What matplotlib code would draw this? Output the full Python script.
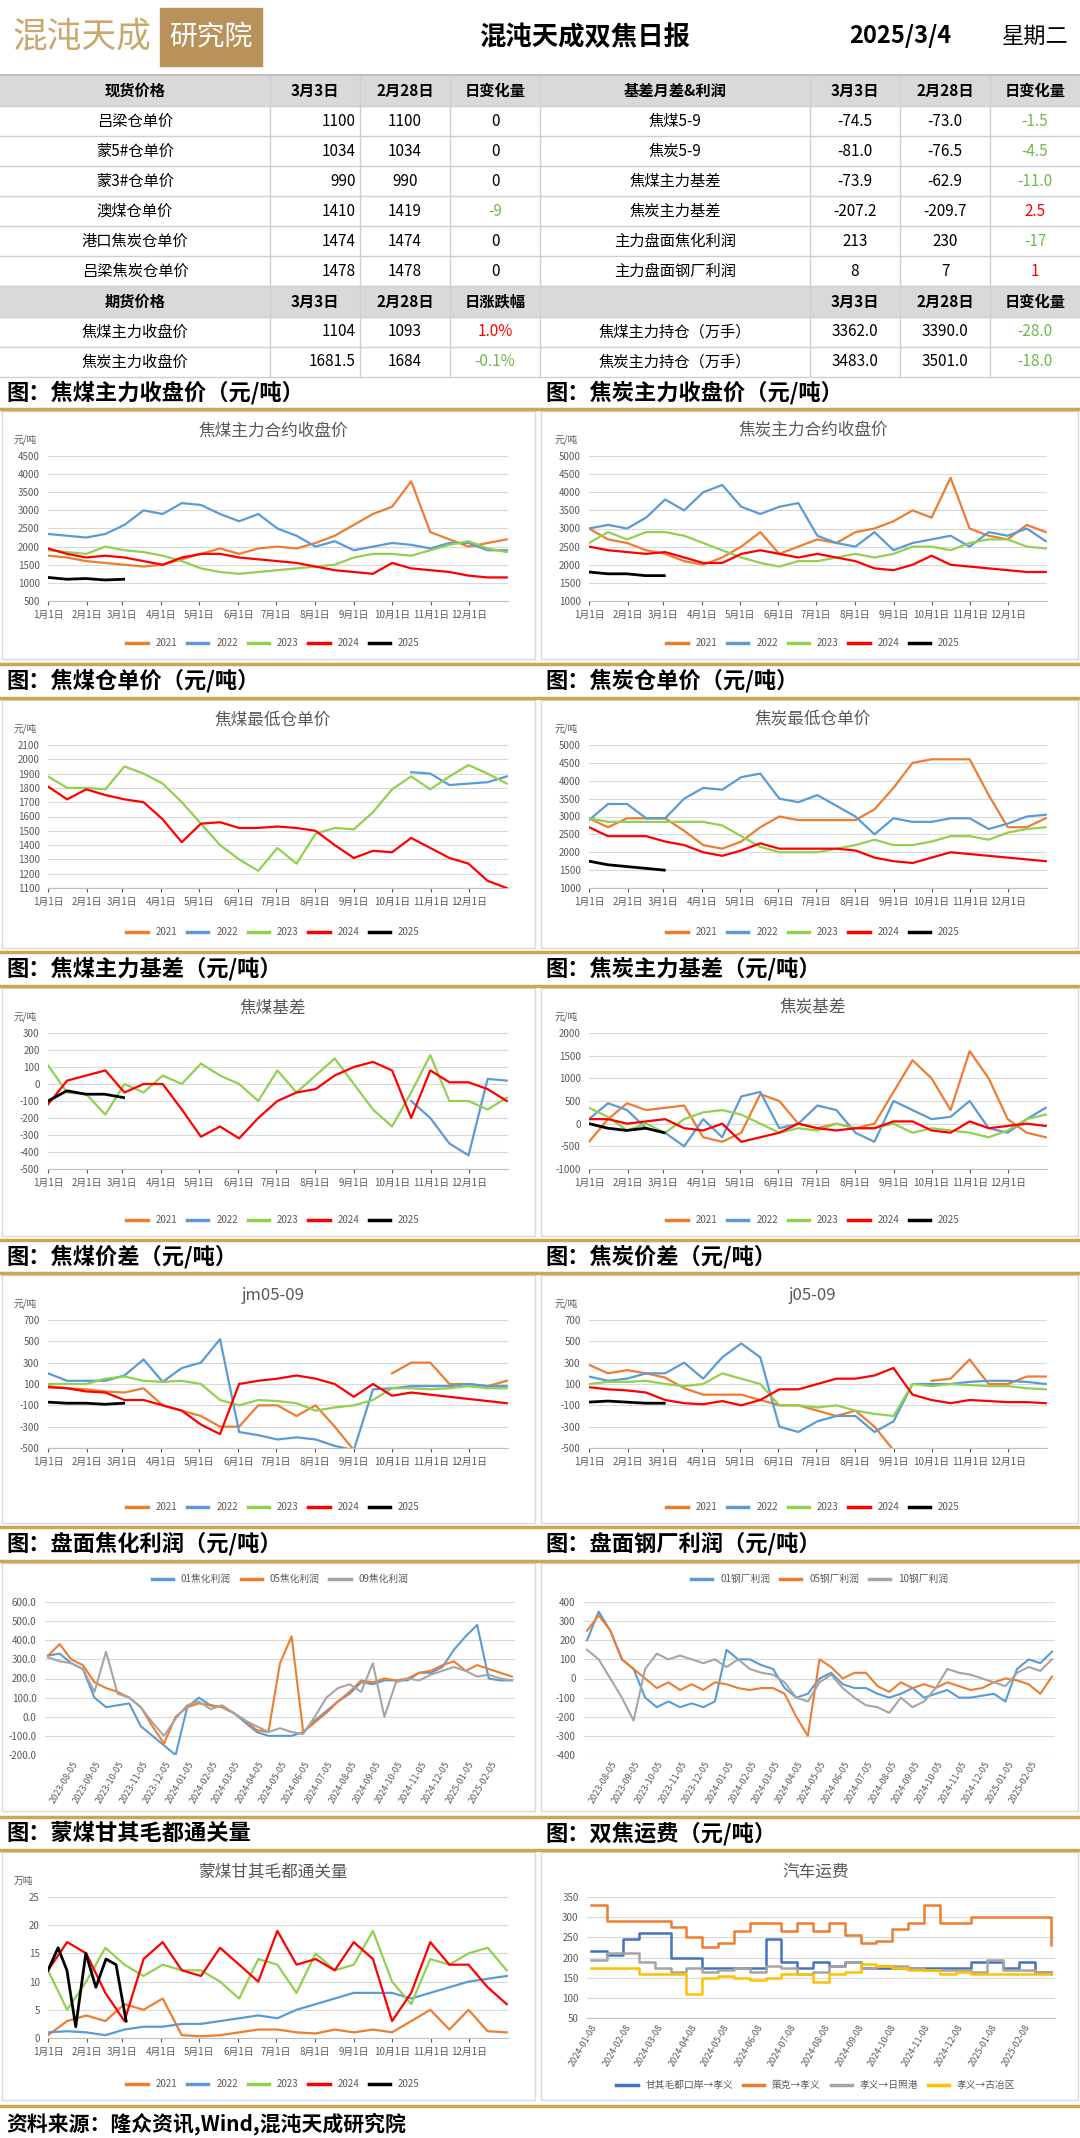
import numpy as np
import pandas as pd
import matplotlib
matplotlib.use("Agg")
import matplotlib.pyplot as plt
from matplotlib.lines import Line2D
from matplotlib.patches import Rectangle

plt.rcParams["font.family"] = ["Noto Sans CJK SC", "DejaVu Sans"]
plt.rcParams["axes.unicode_minus"] = False

W, H = 1080, 2138
nan = np.nan

# ---------------- table data ----------------
spot_names = ["吕梁仓单价", "蒙5#仓单价", "蒙3#仓单价", "澳煤仓单价", "港口焦炭仓单价", "吕梁焦炭仓单价"]
spot_d1 = ["1100", "1034", "990", "1410", "1474", "1478"]
spot_d0 = ["1100", "1034", "990", "1419", "1474", "1478"]
spot_chg = ["0", "0", "0", "-9", "0", "0"]
basis_names = ["焦煤5-9", "焦炭5-9", "焦煤主力基差", "焦炭主力基差", "主力盘面焦化利润", "主力盘面钢厂利润"]
basis_d1 = ["-74.5", "-81.0", "-73.9", "-207.2", "213", "8"]
basis_d0 = ["-73.0", "-76.5", "-62.9", "-209.7", "230", "7"]
basis_chg = ["-1.5", "-4.5", "-11.0", "2.5", "-17", "1"]
fut_names = ["焦煤主力收盘价", "焦炭主力收盘价"]
fut_d1 = ["1104", "1681.5"]
fut_d0 = ["1093", "1684"]
fut_chg = ["1.0%", "-0.1%"]
oi_names = ["焦煤主力持仓（万手）", "焦炭主力持仓（万手）"]
oi_d1 = ["3362.0", "3483.0"]
oi_d0 = ["3390.0", "3501.0"]
oi_chg = ["-28.0", "-18.0"]

# ---------------- seasonal chart data (semi-monthly samples) ----------------
years = ["2021", "2022", "2023", "2024", "2025"]
jm_close = {
    "2021": [1750,1700,1600,1550,1500,1450,1500,1650,1800,1950,1800,1950,2000,1950,2100,2300,2600,2900,3100,3800,2400,2200,2000,2100,2200],
    "2022": [2350,2300,2250,2350,2600,3000,2900,3200,3150,2900,2700,2900,2500,2300,2000,2150,1900,2000,2100,2050,1950,2100,2100,1900,1900],
    "2023": [1900,1850,1800,2000,1900,1850,1750,1600,1400,1300,1250,1300,1350,1400,1450,1500,1700,1800,1800,1750,1900,2050,2150,1950,1850],
    "2024": [1950,1800,1700,1750,1700,1600,1500,1700,1800,1800,1700,1650,1600,1550,1450,1350,1300,1250,1550,1400,1350,1300,1200,1150,1150],
    "2025": [1150,1100,1120,1080,1100],
}
j_close = {
    "2021": [3000,2700,2600,2400,2300,2100,2000,2200,2500,2900,2300,2500,2700,2600,2900,3000,3200,3500,3300,4400,3000,2800,2700,3100,2900],
    "2022": [3000,3100,3000,3300,3800,3500,4000,4200,3600,3400,3600,3700,2800,2600,2500,2900,2400,2600,2700,2800,2500,2900,2800,3000,2650],
    "2023": [2600,2900,2700,2900,2900,2800,2600,2400,2200,2050,1950,2100,2100,2200,2300,2200,2300,2500,2500,2400,2600,2700,2700,2500,2450],
    "2024": [2500,2400,2350,2300,2350,2200,2050,2050,2300,2400,2300,2200,2300,2200,2100,1900,1850,2000,2250,2000,1950,1900,1850,1800,1800],
    "2025": [1800,1750,1750,1700,1700],
}
jm_wr = {
    "2021": [],
    "2022": [nan]*19 + [1910,1900,1820,1830,1840,1880],
    "2023": [1880,1800,1800,1790,1950,1900,1830,1700,1550,1400,1300,1220,1380,1270,1480,1520,1510,1630,1790,1880,1790,1880,1960,1900,1830],
    "2024": [1810,1720,1790,1750,1720,1700,1580,1420,1550,1560,1520,1520,1530,1520,1500,1400,1310,1360,1350,1450,1380,1310,1270,1150,1100],
    "2025": [],
}
j_wr = {
    "2021": [2950,2700,2950,2950,2950,2600,2200,2100,2300,2700,3000,2900,2900,2900,2900,3200,3800,4500,4600,4600,4600,3600,2700,2700,2950],
    "2022": [2900,3350,3350,2950,2950,3500,3800,3750,4100,4200,3500,3400,3600,3300,3000,2500,2950,2850,2850,2950,2950,2650,2800,3000,3050],
    "2023": [2950,2850,2850,2850,2850,2850,2850,2750,2450,2150,2000,2000,2000,2100,2200,2350,2200,2200,2300,2450,2450,2350,2550,2650,2700],
    "2024": [2700,2450,2450,2450,2300,2200,2000,1900,2050,2250,2100,2100,2100,2100,2050,1850,1750,1700,1850,2000,1950,1900,1850,1800,1750],
    "2025": [1750,1650,1600,1550,1500],
}
jm_basis = {
    "2021": [],
    "2022": [nan]*19 + [-100,-200,-350,-420,30,20],
    "2023": [110,-50,-60,-180,0,-50,50,0,120,50,0,-100,80,-50,50,150,0,-150,-250,-50,170,-100,-100,-150,-80],
    "2024": [-120,20,50,80,-50,0,0,-150,-310,-250,-320,-200,-100,-50,-30,50,100,130,80,-200,80,10,10,-30,-100],
    "2025": [-100,-40,-60,-60,-80],
}
j_basis = {
    "2021": [-400,100,450,300,350,400,-300,-400,-200,650,500,0,-100,0,-100,0,700,1400,1000,300,1600,1000,100,-200,-300],
    "2022": [100,450,300,-100,-200,-500,100,-300,600,700,-100,0,400,300,-200,-400,500,300,100,150,500,-100,-200,100,350],
    "2023": [350,150,-150,0,-200,100,250,300,200,0,-200,-100,-150,0,-100,-100,0,-200,-100,-150,-200,-300,-150,100,200],
    "2024": [100,100,0,50,100,-100,-150,0,-400,-300,-200,0,-100,-150,-100,-100,50,50,-150,-200,50,-100,-50,0,-50],
    "2025": [0,-100,-150,-100,-200],
}
jm_spread = {
    "2021": [80,60,50,30,20,60,-100,-150,-200,-300,-300,-100,-100,-200,-100,-300,-520,nan,200,300,300,100,100,80,130],
    "2022": [200,130,130,130,180,330,120,250,300,520,-350,-380,-420,-400,-420,-480,-520,50,60,80,80,80,100,80,80],
    "2023": [100,100,100,150,170,130,120,130,100,-50,-100,-50,-60,-80,-150,-120,-100,-50,60,60,50,60,80,60,60],
    "2024": [70,60,30,20,-50,-50,-100,-150,-280,-370,100,130,150,180,150,100,-20,100,-10,20,0,-20,-40,-60,-80],
    "2025": [-70,-80,-80,-90,-80],
}
j_spread = {
    "2021": [280,200,230,200,160,60,0,0,0,-50,-100,-100,-150,-200,-150,-300,-520,nan,130,150,330,100,100,170,170],
    "2022": [170,130,150,200,200,300,150,350,480,350,-300,-350,-250,-200,-200,-350,-250,100,100,100,120,130,130,120,100],
    "2023": [100,120,120,130,100,80,100,200,150,100,-100,-100,-120,-100,-150,-180,-200,100,80,100,90,80,80,60,50],
    "2024": [70,50,40,20,-50,-80,-90,-60,-100,-50,50,50,100,150,150,180,250,0,-50,-80,-50,-60,-70,-70,-80],
    "2025": [-70,-60,-70,-80,-80],
}
mongol = {
    "2021": [0.5,3,4,3,6,5,7,0.5,0.3,0.5,1,1.5,1.5,1,0.8,1.5,1,1.5,1,3,5,1.5,5,1.2,1],
    "2022": [1,1.2,1,0.5,1.5,2,2,2.5,2.5,3,3.5,4,3.5,5,6,7,8,8,8,7,8,9,10,10.5,11],
    "2023": [12,5,10,16,13,11,13,12,12,10,7,14,13,8,15,12,13,19,10,6,14,13,15,16,12],
    "2024": [12,17,15,8,3,14,17,12,11,16,13,10,19,13,14,12,17,14,3,8,17,13,13,9,6],
    "2025": [12,16,12,2,15,9,14,13,3],
}
mongol_2025_days = [0, 8, 15, 22, 30, 38, 46, 54, 62]

# coking / steel profit (semi-monthly from 2023-07-05)
coke_p01 = [320,330,280,250,100,50,60,70,-50,-100,-150,-200,50,100,60,50,20,-30,-80,-100,-100,-100,-80,-20,30,80,120,180,170,190,190,190,230,230,260,350,420,480,200,190,190]
coke_p05 = [320,380,300,270,180,150,130,100,50,-50,-140,0,50,70,60,50,20,-20,-70,-80,280,420,-80,-30,20,80,130,190,180,200,190,200,230,240,270,290,240,270,250,230,210]
coke_p09 = [310,290,280,250,130,340,120,100,50,-30,-100,-10,60,80,40,60,20,-20,-50,-80,-60,-80,-90,0,100,150,170,130,280,0,180,200,190,220,240,260,240,210,220,200,190]
steel_p01 = [200,350,250,100,50,-100,-150,-120,-150,-130,-150,-120,150,100,100,70,50,-50,-100,-80,0,30,-30,-50,-50,-80,-100,-80,-50,-100,-80,-60,-100,-100,-90,-80,-120,50,100,80,140]
steel_p05 = [250,330,250,100,50,0,-50,-20,-60,-30,-60,-20,-30,-50,-60,-50,-50,-80,-200,-300,100,60,0,30,30,-40,-70,-20,-50,-30,-50,-20,-40,-60,-50,-20,0,-10,-30,-80,10]
steel_p10 = [150,100,0,-100,-220,50,130,100,120,100,80,100,60,100,50,30,20,-20,-100,-120,-20,20,-50,-100,-140,-150,-180,-100,-150,-120,-50,50,30,20,0,-20,-40,30,60,40,100]

# freight (semi-monthly from 2024-01-08)
fr_gqmd = [215,205,245,260,260,200,200,175,175,175,175,245,190,175,190,180,190,175,175,175,175,175,175,175,190,190,175,190,165,165]
fr_ceke = [330,290,290,290,290,275,250,225,235,265,285,285,265,285,265,285,255,235,240,270,285,330,285,285,300,300,300,300,300,230]
fr_rzg = [195,210,210,190,175,165,175,165,170,175,165,180,175,160,165,180,190,175,180,180,175,170,170,170,165,195,170,170,165,160]
fr_gyq = [175,175,175,160,160,160,110,150,155,150,145,150,160,160,140,160,165,185,180,175,170,170,160,165,160,160,160,160,160,160]

month_labels = [f"{m}月1日" for m in range(1, 13)]
month_days = [0, 31, 59, 90, 120, 151, 181, 212, 243, 273, 304, 334]

COL = {"2021": "#ED7D31", "2022": "#5B9BD5", "2023": "#92D050", "2024": "#FF0000", "2025": "#000000"}
GOLD = "#C8A951"
TXT = "#595959"

fig = plt.figure(figsize=(W / 100, H / 100), dpi=100)
bg = fig.add_axes([0, 0, 1, 1])
bg.set_xlim(0, W)
bg.set_ylim(H, 0)
bg.axis("off")


def pax(x0, y0, x1, y1):
    return fig.add_axes([x0 / W, 1 - y1 / H, (x1 - x0) / W, (y1 - y0) / H])


# ---------------- header ----------------
bg.text(82, 38, "混沌天成", fontsize=25, color="#C9A86A", va="center", ha="center", fontweight="light")
bg.add_patch(Rectangle((160, 8), 102, 58, color="#B8925A"))
bg.text(211, 37, "研究院", fontsize=20, color="white", va="center", ha="center")
bg.text(585, 38, "混沌天成双焦日报", fontsize=19, fontweight="bold", va="center", ha="center")
bg.text(900, 36, "2025/3/4", fontsize=17, fontweight="bold", va="center", ha="center")
bg.text(1035, 36, "星期二", fontsize=16, va="center", ha="center")

# ---------------- table ----------------
edges = [0, 270, 360, 450, 540, 810, 900, 990, 1080]
centers = [(edges[i] + edges[i + 1]) / 2 for i in range(8)]
hdr1 = ["现货价格", "3月3日", "2月28日", "日变化量", "基差月差&利润", "3月3日", "2月28日", "日变化量"]
hdr2 = ["期货价格", "3月3日", "2月28日", "日涨跌幅", "", "3月3日", "2月28日", "日变化量"]


def chg_color(s):
    if s.startswith("-"):
        return "#70B84A"
    if s in ("0", "0.0"):
        return "black"
    return "#FF0000"


def draw_row(y0, h, cells, header=False):
    if header:
        bg.add_patch(Rectangle((0, y0), W, h, color="#D9D9D9"))
    for i, c in enumerate(cells):
        txt, color = c if isinstance(c, tuple) else (c, "black")
        if i == 1 and not header:
            bg.text(edges[2] - 4, y0 + h / 2, txt, ha="right", va="center", fontsize=11, color=color)
        else:
            bg.text(centers[i], y0 + h / 2, txt, ha="center", va="center", fontsize=11, color=color,
                    fontweight="bold" if header else "normal")
    bg.plot([0, W], [y0 + h, y0 + h], color="#CFCFCF", lw=1)


draw_row(75, 31, hdr1, header=True)
for r in range(6):
    draw_row(106 + 30 * r, 30, [spot_names[r], spot_d1[r], spot_d0[r], (spot_chg[r], chg_color(spot_chg[r])),
                                basis_names[r], basis_d1[r], basis_d0[r], (basis_chg[r], chg_color(basis_chg[r]))])
draw_row(286, 31, hdr2, header=True)
for r in range(2):
    draw_row(317 + 30 * r, 30, [fut_names[r], fut_d1[r], fut_d0[r], (fut_chg[r], chg_color(fut_chg[r])),
                                oi_names[r], oi_d1[r], oi_d0[r], (oi_chg[r], chg_color(oi_chg[r]))])
for xe in edges[1:-1]:
    bg.plot([xe, xe], [75, 377], color="#CFCFCF", lw=1)
bg.plot([0, W], [75, 75], color="#BFBFBF", lw=1.5)

# ---------------- section titles ----------------
bands = [(377, 409), (664, 698), (952, 986), (1240, 1273), (1527, 1561), (1817, 1850)]
titles = [("图：焦煤主力收盘价（元/吨）", "图：焦炭主力收盘价（元/吨）"),
          ("图：焦煤仓单价（元/吨）", "图：焦炭仓单价（元/吨）"),
          ("图：焦煤主力基差（元/吨）", "图：焦炭主力基差（元/吨）"),
          ("图：焦煤价差（元/吨）", "图：焦炭价差（元/吨）"),
          ("图：盘面焦化利润（元/吨）", "图：盘面钢厂利润（元/吨）"),
          ("图：蒙煤甘其毛都通关量", "图：双焦运费（元/吨）")]
for (y0, y1), (tl, tr) in zip(bands, titles):
    bg.plot([0, W], [y1, y1], color=GOLD, lw=2.5)
    if y0 > 400:
        bg.plot([0, W], [y0, y0], color=GOLD, lw=2.5)
    bg.text(6, (y0 + y1) / 2, tl, fontsize=16, fontweight="bold", va="center", ha="left")
    bg.text(545, (y0 + y1) / 2, tr, fontsize=16, fontweight="bold", va="center", ha="left")
bg.plot([0, W], [2106, 2106], color=GOLD, lw=2.5)
bg.text(6, 2124, "资料来源：隆众资讯,Wind,混沌天成研究院", fontsize=15, fontweight="bold", va="center", ha="left")

panel_tops = [409, 698, 986, 1273, 1561, 1850]
for T in panel_tops:
    bg.add_patch(Rectangle((2, T + 2), 533, 248, fill=False, ec="#D9D9D9", lw=1))
    bg.add_patch(Rectangle((541, T + 2), 537, 248, fill=False, ec="#D9D9D9", lw=1))


def style(ax, ylim, yticks, fmt="{:g}"):
    ax.set_ylim(*ylim)
    ax.set_yticks(yticks)
    ax.set_yticklabels([fmt.format(v) for v in yticks], fontsize=7, color=TXT)
    ax.grid(axis="y", color="#D9D9D9", lw=0.8)
    ax.set_axisbelow(True)
    for s in ["top", "right", "left"]:
        ax.spines[s].set_visible(False)
    ax.spines["bottom"].set_color("#BFBFBF")
    ax.tick_params(axis="y", length=0, pad=6)
    ax.tick_params(axis="x", colors=TXT, labelsize=7, length=3)


def legend(handles, labels, cx, y, ncol=5, fs=7):
    fig.legend(handles, labels, loc="center", bbox_to_anchor=(cx / W, 1 - y / H), ncol=ncol,
               frameon=False, fontsize=fs, handlelength=2.2, columnspacing=1.0, labelcolor=TXT)


def seasonal(side, T, bottom, title, data, ylim, yticks, unit="元/吨", days2025=None):
    x0, x1 = (48, 508) if side == 0 else (589, 1047)
    ax = pax(x0, T + 47, x1, T + bottom)
    for y in years:
        vals = data[y]
        if len(vals) == 0:
            continue
        if y == "2025":
            d = days2025 if days2025 is not None else np.arange(len(vals)) * 15
        else:
            d = np.linspace(0, 364, len(vals))
        ax.plot(d, vals, color=COL[y], lw=1.6 if y != "2025" else 2.0)
    ax.set_xlim(0, 365)
    ax.set_xticks(month_days)
    ax.set_xticklabels(month_labels)
    style(ax, ylim, yticks)
    cx = (x0 + x1) / 2 - 5
    bg.text(cx, T + 22, title, fontsize=12, color=TXT, ha="center", va="center")
    if unit:
        bg.text(x0 - 34, T + 31, unit, fontsize=7, color=TXT, ha="left", va="center")
    hs = [Line2D([], [], color=COL[y], lw=2.5) for y in years]
    legend(hs, years, cx, T + 234)
    return ax


T = panel_tops[0]
seasonal(0, T, 192, "焦煤主力合约收盘价", jm_close, (500, 4500), list(range(500, 4501, 500)))
seasonal(1, T, 192, "焦炭主力合约收盘价", j_close, (1000, 5000), list(range(1000, 5001, 500)))
T = panel_tops[1]
seasonal(0, T, 190, "焦煤最低仓单价", jm_wr, (1100, 2100), list(range(1100, 2101, 100)))
seasonal(1, T, 190, "焦炭最低仓单价", j_wr, (1000, 5000), list(range(1000, 5001, 500)))
T = panel_tops[2]
seasonal(0, T, 183, "焦煤基差", jm_basis, (-500, 300), list(range(-500, 301, 100)))
seasonal(1, T, 183, "焦炭基差", j_basis, (-1000, 2000), list(range(-1000, 2001, 500)))
T = panel_tops[3]
seasonal(0, T, 175, "jm05-09", jm_spread, (-500, 700), list(range(-500, 701, 200)))
seasonal(1, T, 175, "j05-09", j_spread, (-500, 700), list(range(-500, 701, 200)))

# ---------------- profit charts ----------------
T = panel_tops[4]
pdates = pd.date_range("2023-07-05", "2025-03-04", periods=len(coke_p01))
tick_dates = pd.date_range("2023-07-05", "2025-02-05", freq="MS") + pd.Timedelta(days=4)
PC = ["#5B9BD5", "#ED7D31", "#A5A5A5"]
for side, series, labels, ylim, yt, fmt in [
        (0, [coke_p01, coke_p05, coke_p09], ["01焦化利润", "05焦化利润", "09焦化利润"], (-200, 600), list(range(-200, 601, 100)), "{:.1f}"),
        (1, [steel_p01, steel_p05, steel_p10], ["01钢厂利润", "05钢厂利润", "10钢厂利润"], (-400, 400), list(range(-400, 401, 100)), "{:g}")]:
    x0, x1 = (45, 515) if side == 0 else (584, 1055)
    ax = pax(x0, T + 41, x1, T + 194)
    for s, c in zip(series, PC):
        ax.plot(pdates, s, color=c, lw=1.5)
    ax.set_xlim(pd.Timestamp("2023-07-01"), pd.Timestamp("2025-03-08"))
    ax.set_xticks(tick_dates)
    ax.set_xticklabels([d.strftime("%Y-%m-%d") for d in tick_dates], rotation=60, ha="right", rotation_mode="anchor")
    style(ax, ylim, yt, fmt)
    ax.spines["bottom"].set_visible(False)
    ax.tick_params(axis="x", length=0, labelsize=6.5)
    hs = [Line2D([], [], color=c, lw=2.5) for c in PC]
    legend(hs, labels, (x0 + x1) / 2, T + 18, ncol=3)

# ---------------- mongolia customs & freight ----------------
T = panel_tops[5]
ax = seasonal(0, T, 188, "蒙煤甘其毛都通关量", mongol, (0, 25), list(range(0, 26, 5)), unit="万吨", days2025=mongol_2025_days)

fdates = pd.date_range("2024-01-08", "2025-03-04", periods=len(fr_gqmd))
ftick = pd.date_range("2024-01-01", "2025-02-01", freq="MS") + pd.Timedelta(days=7)
FC = ["#4472C4", "#ED7D31", "#A5A5A5", "#FFC000"]
ax = pax(587, T + 47, 1055, T + 168)
for s, c in zip([fr_gqmd, fr_ceke, fr_rzg, fr_gyq], FC):
    ax.step(fdates, s, where="post", color=c, lw=1.8)
ax.set_xlim(pd.Timestamp("2024-01-04"), pd.Timestamp("2025-03-08"))
ax.set_xticks(ftick)
ax.set_xticklabels([d.strftime("%Y-%m-%d") for d in ftick], rotation=60, ha="right", rotation_mode="anchor")
style(ax, (50, 350), list(range(50, 351, 50)))
ax.tick_params(axis="x", length=0, labelsize=6.5)
bg.text(816, T + 22, "汽车运费", fontsize=12, color=TXT, ha="center", va="center")
hs = [Line2D([], [], color=c, lw=2.5) for c in FC]
legend(hs, ["甘其毛都口岸→孝义", "策克→孝义", "孝义→日照港", "孝义→古冶区"], 816, T + 235, ncol=4)

fig.savefig("out.png", dpi=100)
